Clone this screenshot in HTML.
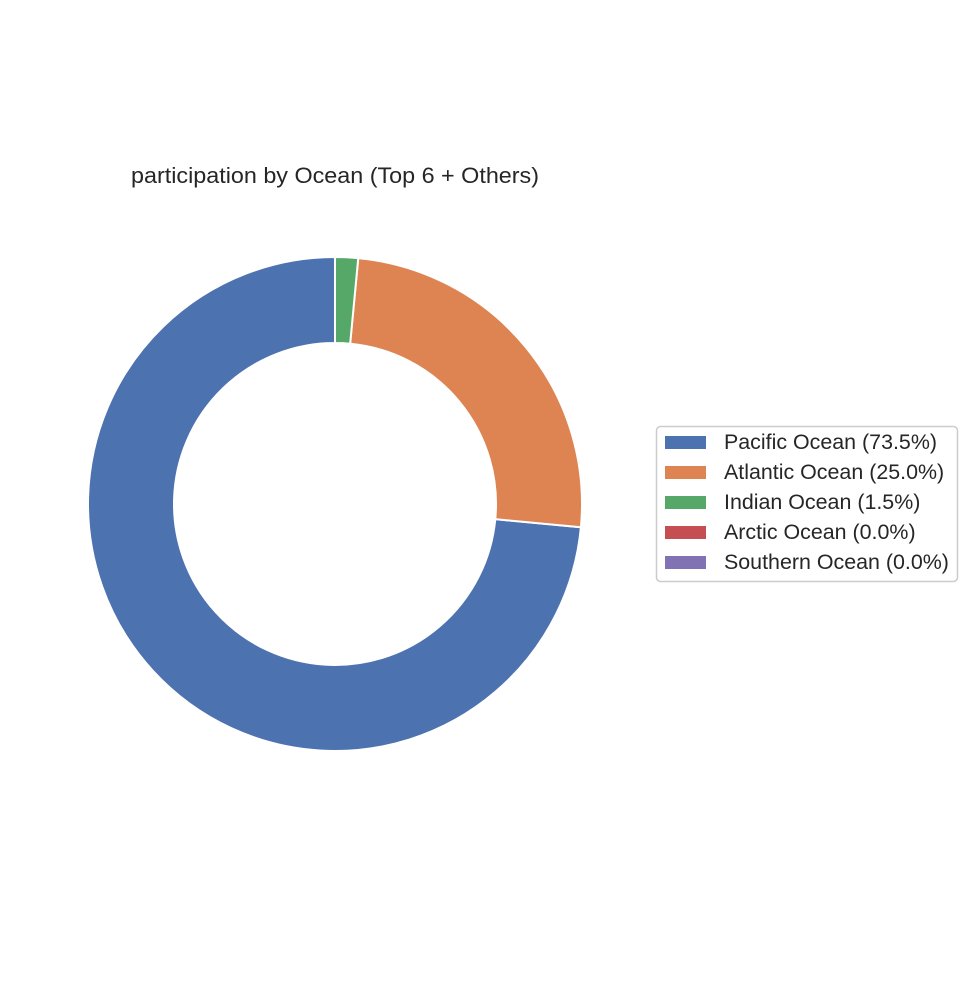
<!DOCTYPE html>
<html><head><meta charset="utf-8"><style>
body{margin:0;background:#fff}
svg text{font-family:"Liberation Sans",Arial,sans-serif;fill:#262626}
</style></head><body>
<svg width="980" height="980" viewBox="0 0 980 980">
<text x="335" y="183" font-size="22" text-anchor="middle" textLength="408" lengthAdjust="spacingAndGlyphs">participation by Ocean (Top 6 + Others)</text>
<g id="wedges"></g>
<g>
<rect x="656.5" y="426.5" width="301" height="155" rx="4" fill="#fff" stroke="#cccccc" stroke-width="1.5"/>
<g id="legend-items"></g>
</g>
</svg>
<script>
const categories = ["Pacific Ocean","Atlantic Ocean","Indian Ocean","Arctic Ocean","Southern Ocean"];
const values = [73.5, 25.0, 1.5, 0.0, 0.0];
const colors = ["#4c72b0","#dd8452","#55a868","#c44e52","#8172b3"];
const cx=335, cy=504, R=247, r=161;
const NS="http://www.w3.org/2000/svg";
const total = values.reduce((a,b)=>a+b,0);
let ang = 90;
const g=document.getElementById('wedges');
function pt(rad,a){const t=a*Math.PI/180;return [cx+rad*Math.cos(t), cy-rad*Math.sin(t)];}
values.forEach((v,i)=>{
  const sweep = v/total*360;
  if(sweep<=0){return;}
  const a0=ang, a1=ang+sweep;
  const large = sweep>180?1:0;
  const p0=pt(R,a0), p1=pt(R,a1), q1=pt(r,a1), q0=pt(r,a0);
  const d=`M${p0[0]},${p0[1]} A${R},${R} 0 ${large} 0 ${p1[0]},${p1[1]} L${q1[0]},${q1[1]} A${r},${r} 0 ${large} 1 ${q0[0]},${q0[1]} Z`;
  const p=document.createElementNS(NS,'path');
  p.setAttribute('d',d);p.setAttribute('fill',colors[i]);
  p.setAttribute('stroke','#fff');p.setAttribute('stroke-width','2');p.setAttribute('stroke-linejoin','round');
  
  
  g.appendChild(p);
  ang=a1;
});
const lg=document.getElementById('legend-items');
categories.forEach((c,i)=>{
  const y=442+i*30;
  const rc=document.createElementNS(NS,'rect');
  rc.setAttribute('x',665);rc.setAttribute('y',y-6);rc.setAttribute('width',41);rc.setAttribute('height',13);
  rc.setAttribute('fill',colors[i]);
  
  
  lg.appendChild(rc);
  const t=document.createElementNS(NS,'text');
  t.setAttribute('x',724);t.setAttribute('y',y+7);t.setAttribute('font-size','21');
  t.setAttribute('transform',`translate(724,0) scale(1.02,1) translate(-724,0)`);
  t.textContent=`${c} (${values[i].toFixed(1)}%)`;
  
  
  lg.appendChild(t);
});
</script>
</body></html>
